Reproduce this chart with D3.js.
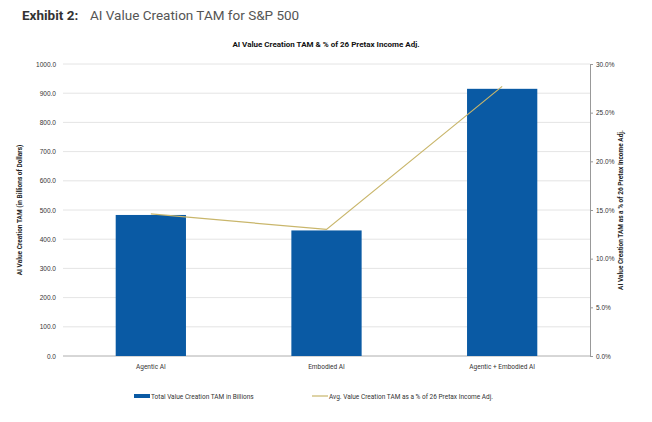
<!DOCTYPE html>
<html><head><meta charset="utf-8">
<script src="https://cdn.jsdelivr.net/npm/d3@7"></script>
<style>body{margin:0;background:#fff;font-family:Roboto,"Liberation Sans",sans-serif;}</style>
</head><body><svg id="chart" width="652" height="422"></svg>
<script>
const categories = ['Agentic AI', 'Embodied AI', 'Agentic + Embodied AI'];
const tamBillions = [483, 430, 915];
const pctIncome = [14.6, 13.0, 27.7];
const leftTicks = [0, 100, 200, 300, 400, 500, 600, 700, 800, 900, 1000];
const rightTicks = [0, 5, 10, 15, 20, 25, 30];

const svg = d3.select('#chart');
const m = {left: 63, right: 590, top: 64, bottom: 356};

const x = d3.scaleBand().domain(categories).range([m.left, m.right]).paddingInner(0.6).paddingOuter(0.3);
const y = d3.scaleLinear().domain([0, 1000]).range([m.bottom, m.top]);
const y2 = d3.scaleLinear().domain([0, 30]).range([m.bottom, m.top]);

svg.append('text').attr('x', 22).attr('y', 20).attr('font-size', 13.5).attr('fill', '#333')
  .attr('font-weight', 'bold').text('Exhibit 2:');
svg.append('text').attr('x', 90).attr('y', 20).attr('font-size', 13.5).attr('fill', '#555')
  .text('AI Value Creation TAM for S&P 500');
svg.append('text').attr('x', 326).attr('y', 47).attr('font-size', 8).attr('font-weight', 'bold')
  .attr('text-anchor', 'middle').attr('fill', '#111').text('AI Value Creation TAM & % of 26 Pretax Income Adj.');

// gridlines
svg.append('g').selectAll('line').data(leftTicks).join('line')
  .attr('x1', m.left).attr('x2', m.right).attr('y1', d => y(d)).attr('y2', d => y(d))
  .attr('stroke', d => d === 0 ? '#999' : '#ddd').attr('stroke-width', 0.8);

svg.append('g').attr('transform', `translate(${m.left - 4},0)`)
  .call(d3.axisLeft(y).tickValues(leftTicks).tickFormat(d3.format('.1f')).tickSize(0))
  .call(g => g.select('.domain').remove())
  .call(g => g.selectAll('text').attr('font-size', 6.5).attr('fill', '#333'));

svg.append('g').attr('transform', `translate(${m.right},0)`)
  .call(d3.axisRight(y2).tickValues(rightTicks).tickFormat(d => d.toFixed(1) + '%').tickSize(3))
  .call(g => g.select('.domain').attr('stroke', '#999'))
  .call(g => g.selectAll('line').attr('stroke', '#999'))
  .call(g => g.selectAll('text').attr('font-size', 6.5).attr('fill', '#333'));

svg.selectAll('.bar').data(categories).join('rect')
  .attr('x', d => x(d)).attr('width', x.bandwidth())
  .attr('y', (d, i) => y(tamBillions[i])).attr('height', (d, i) => y(0) - y(tamBillions[i]))
  .attr('fill', '#0a5aa4');

svg.append('path').datum(pctIncome)
  .attr('d', d3.line().x((d, i) => x(categories[i]) + x.bandwidth() / 2).y(d => y2(d)))
  .attr('fill', 'none').attr('stroke', '#c9b66b').attr('stroke-width', 1.2);

svg.append('g').selectAll('text').data(categories).join('text')
  .attr('x', d => x(d) + x.bandwidth() / 2).attr('y', 369).attr('text-anchor', 'middle')
  .attr('font-size', 6.5).attr('fill', '#333').text(d => d);

svg.append('text').attr('transform', `translate(22,${(m.top + m.bottom) / 2}) rotate(-90)`)
  .attr('text-anchor', 'middle').attr('font-size', 6.5).attr('font-weight', 'bold').attr('fill', '#222')
  .text('AI Value Creation TAM (in Billions of Dollars)');
svg.append('text').attr('transform', `translate(623,${(m.top + m.bottom) / 2}) rotate(-90)`)
  .attr('text-anchor', 'middle').attr('font-size', 6.5).attr('font-weight', 'bold').attr('fill', '#222')
  .text('AI Value Creation TAM as a % of 26 Pretax Income Adj.');

// legend
svg.append('rect').attr('x', 134).attr('y', 394).attr('width', 16).attr('height', 4).attr('fill', '#0a5aa4');
svg.append('text').attr('x', 151).attr('y', 398.5).attr('font-size', 6.5).attr('fill', '#333')
  .text('Total Value Creation TAM in Billions');
svg.append('line').attr('x1', 312).attr('x2', 328).attr('y1', 396).attr('y2', 396)
  .attr('stroke', '#c9b66b').attr('stroke-width', 1.2);
svg.append('text').attr('x', 329).attr('y', 398.5).attr('font-size', 6.5).attr('fill', '#333')
  .text('Avg. Value Creation TAM as a % of 26 Pretax Income Adj.');
</script></body></html>
